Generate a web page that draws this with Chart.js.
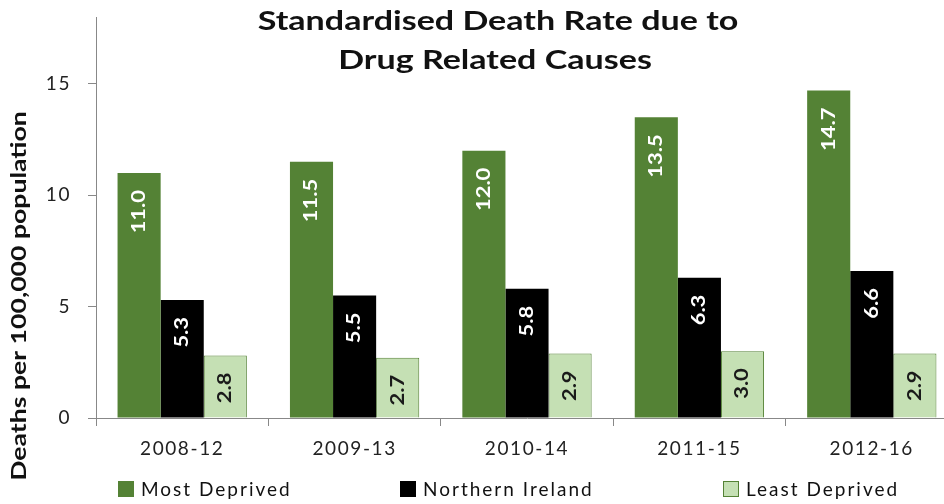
<!DOCTYPE html>
<html>
<head>
<meta charset="utf-8">
<script src="https://cdn.jsdelivr.net/npm/chart.js@4.4.1/dist/chart.umd.min.js"></script>
<style>
  body { margin: 0; background: #fff; }
  #wrap { width: 944px; height: 504px; overflow: hidden; position: relative; }
  #deathRate { position: absolute; left: 0; top: 0; }
</style>
</head>
<body>
<div id="wrap"><canvas id="deathRate" width="960" height="504"></canvas></div>
<script>
const periods = ['2008-12', '2009-13', '2010-14', '2011-15', '2012-16'];
const mostDeprived = [11.0, 11.5, 12.0, 13.5, 14.7];
const northernIreland = [5.3, 5.5, 5.8, 6.3, 6.6];
const leastDeprived = [2.8, 2.7, 2.9, 3.0, 2.9];
const yTicks = [0, 5, 10, 15];

const titleLines = ['Standardised Death Rate due to', 'Drug Related Causes'];
const yTitle = 'Deaths per 100,000 population';

const FONT = 'Lato, "Open Sans", sans-serif';

// draw text widened along its own baseline
function wideText(ctx, text, x, y, stretch, angle = 0) {
    ctx.save();
    ctx.translate(x, y);
    ctx.rotate(angle);
    ctx.scale(stretch, 1);
    ctx.fillText(text, 0, 0);
    ctx.restore();
}

// a little extra letter spacing for the axis ticks drawn by Chart.js
const spacing = {
    id: 'spacing',
    beforeDraw(chart) { chart.ctx.letterSpacing = '1.6px'; }
};

// value labels written upwards inside the top of every bar
const barLabels = {
    id: 'barLabels',
    afterDatasetsDraw(chart) {
        const ctx = chart.ctx;
        ctx.save();
        ctx.letterSpacing = '0px';
        ctx.font = 'bold 18px ' + FONT;
        ctx.textAlign = 'right';
        ctx.textBaseline = 'middle';
        chart.data.datasets.forEach((ds, i) => {
            ctx.fillStyle = ds.labelColor;
            chart.getDatasetMeta(i).data.forEach((bar, j) => {
                wideText(ctx, ds.data[j].toFixed(1), bar.x, bar.y + 17, 1.22, -Math.PI / 2);
            });
        });
        ctx.restore();
    }
};

// title over the plot, rotated axis title and the legend row
const legendX = [118, 400, 723];
const decorations = {
    id: 'decorations',
    afterDraw(chart) {
        const ctx = chart.ctx;
        ctx.save();
        ctx.letterSpacing = '0px';
        ctx.fillStyle = '#111';
        ctx.textAlign = 'center';
        ctx.textBaseline = 'middle';
        ctx.font = 'bold 26px ' + FONT;
        wideText(ctx, titleLines[0], 498, 22, 1.31);
        wideText(ctx, titleLines[1], 495, 61, 1.31);

        ctx.font = 'bold 20px ' + FONT;
        wideText(ctx, yTitle, 20, 296, 1.33, -Math.PI / 2);

        ctx.font = '19px ' + FONT;
        ctx.letterSpacing = '2px';
        ctx.textAlign = 'left';
        const box = 16, gap = 7, y = 489;
        chart.data.datasets.forEach((ds, i) => {
            const x = legendX[i];
            ctx.fillStyle = ds.backgroundColor;
            ctx.fillRect(x, y - box / 2, box, box);
            ctx.strokeStyle = ds.borderColor;
            ctx.lineWidth = 1;
            ctx.strokeRect(x + 0.5, y - box / 2 + 0.5, box - 1, box - 1);
            ctx.fillStyle = '#111';
            ctx.fillText(ds.label, x + box + gap, y + 1);
        });
        ctx.restore();
    }
};

new Chart(document.getElementById('deathRate'), {
    type: 'bar',
    data: {
        labels: periods,
        datasets: [
            {label: 'Most Deprived', data: mostDeprived, backgroundColor: '#548235',
                borderColor: '#548235', borderWidth: 0, labelColor: '#ffffff'},
            {label: 'Northern Ireland', data: northernIreland, backgroundColor: '#000000',
                borderColor: '#000000', borderWidth: 0, labelColor: '#ffffff'},
            {label: 'Least Deprived', data: leastDeprived, backgroundColor: '#c5e0b4',
                borderColor: '#548235', borderWidth: 1, labelColor: '#1a1a1a'}
        ]
    },
    options: {
        responsive: false,
        animation: false,
        devicePixelRatio: 1,
        layout: {padding: {top: 17, right: 2, left: 0, bottom: 0}},
        datasets: {bar: {categoryPercentage: 0.75, barPercentage: 1.0}},
        plugins: {
            legend: {display: false},
            title: {display: false},
            tooltip: {enabled: false}
        },
        scales: {
            x: {
                grid: {display: true, offset: true, drawOnChartArea: false, tickLength: 8, color: '#888'},
                border: {color: '#888', width: 1},
                ticks: {font: {family: FONT, size: 19}, color: '#222', padding: 11},
                afterFit: (scale) => { scale.height = 86; }
            },
            y: {
                min: 0,
                max: 18,
                grid: {display: true, drawOnChartArea: false, tickLength: 8, color: '#888'},
                border: {color: '#888', width: 1},
                ticks: {font: {family: FONT, size: 19}, color: '#222', padding: 17},
                afterBuildTicks: (scale) => { scale.ticks = yTicks.map(v => ({value: v})); },
                afterFit: (scale) => {
                    scale.width = 96;
                    scale.paddingTop = 0;
                    scale.paddingBottom = 0;
                }
            }
        }
    },
    plugins: [spacing, barLabels, decorations]
});
</script>
</body>
</html>
